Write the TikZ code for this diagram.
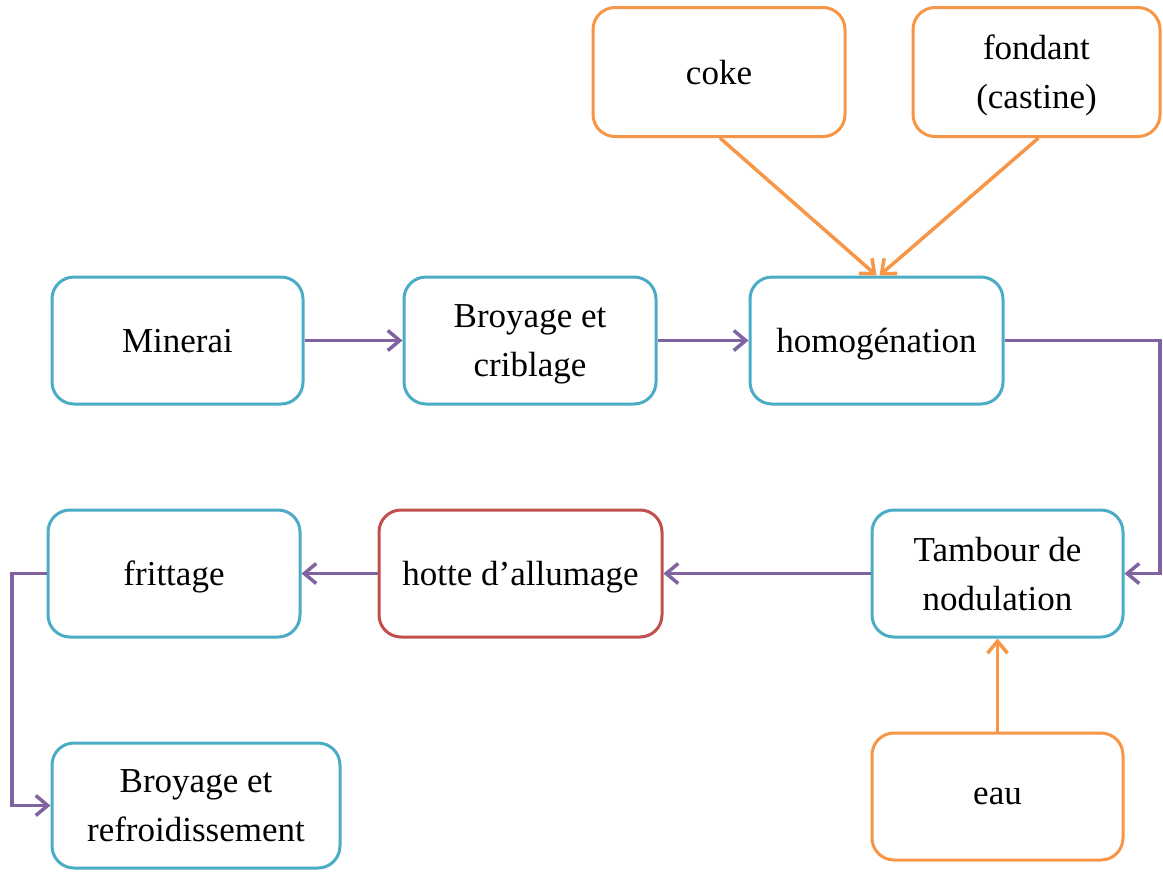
\documentclass[tikz,border=0pt]{standalone}
\usepackage{fontspec}
\setmainfont{Liberation Serif}
\usetikzlibrary{arrows.meta}
\definecolor{cblue}{HTML}{4BACC6}
\definecolor{corange}{HTML}{F79646}
\definecolor{cpurple}{HTML}{8064A2}
\definecolor{cred}{HTML}{C0504D}
\begin{document}
\begin{tikzpicture}[x=1pt,y=-1pt,
  box/.style={draw=#1, line width=3pt, rounded corners=22pt, fill=white,
    align=center, inner sep=0pt, text depth=0pt, font=\fontsize{35}{49}\selectfont},
  flow/.style={draw=#1, line width=3.5pt,
    -{Straight Barb[length=12pt,width=20pt,line width=3.5pt]}},
]
\useasboundingbox (0,0) rectangle (1163,871);
\node[box=corange, minimum width=252pt, minimum height=129pt] (coke) at (719,72) {coke};
\node[box=corange, minimum width=247pt, minimum height=129pt] (fond) at (1036.5,72) {fondant\\(castine)};
\node[box=cblue, minimum width=251pt, minimum height=127pt] (min) at (177.5,340.5) {Minerai};
\node[box=cblue, minimum width=252pt, minimum height=127pt] (broy) at (530,340.5) {Broyage et\\criblage};
\node[box=cblue, minimum width=253pt, minimum height=127pt] (homo) at (876.5,340.5) {homogénation};
\node[box=cblue, minimum width=251pt, minimum height=127pt] (tamb) at (997.5,573.5) {Tambour de\\nodulation};
\node[box=cred, minimum width=283pt, minimum height=127pt] (hotte) at (520.5,573.5) {hotte d’allumage};
\node[box=cblue, minimum width=252pt, minimum height=127pt] (fritt) at (174,573.5) {frittage};
\node[box=cblue, minimum width=288pt, minimum height=125pt] (refr) at (196,805.5) {Broyage et\\refroidissement};
\node[box=corange, minimum width=251pt, minimum height=127pt] (eau) at (997.5,796.5) {eau};
\coordinate (r1) at (1160,340.5);
\coordinate (r2) at (1160,573.5);
\coordinate (l1) at (12,573.5);
\coordinate (l2) at (12,805.5);
\draw[flow=corange] ([xshift=1pt]coke.south) -- (homo.north);
\draw[flow=corange] ([xshift=2pt]fond.south) -- ([xshift=3pt]homo.north);
\draw[flow=cpurple] (min.east) -- (broy.west);
\draw[flow=cpurple] (broy.east) -- (homo.west);
\draw[flow=cpurple] (homo.east) -- (r1) -- (r2) -- (tamb.east);
\draw[flow=cpurple] (tamb.west) -- (hotte.east);
\draw[flow=cpurple] (hotte.west) -- (fritt.east);
\draw[flow=cpurple] (fritt.west) -- (l1) -- (l2) -- (refr.west);
\draw[flow=corange] (eau.north) -- (tamb.south);
\end{tikzpicture}
\end{document}
